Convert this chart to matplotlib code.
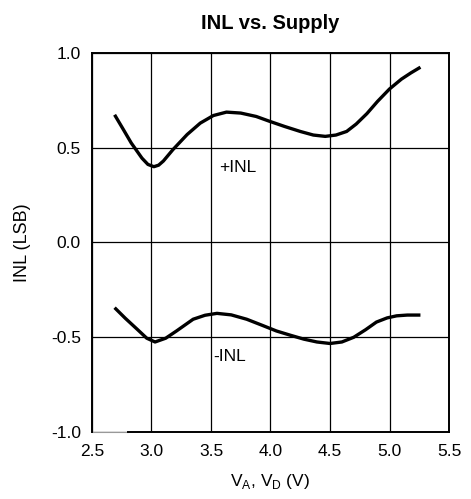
import matplotlib
matplotlib.use("Agg")
import matplotlib.pyplot as plt

plt.rcParams['font.family'] = ['Liberation Sans', 'DejaVu Sans']

# values
supply_pos = [2.69, 2.76, 2.83, 2.92, 2.97, 3.02, 3.06, 3.10, 3.18, 3.30, 3.41, 3.52, 3.63,
              3.75, 3.88, 3.99, 4.12, 4.25, 4.36, 4.46, 4.55, 4.64, 4.72, 4.81, 4.90, 5.00,
              5.10, 5.18, 5.26]
inl_pos = [0.674, 0.60, 0.525, 0.445, 0.412, 0.40, 0.408, 0.43, 0.49, 0.57, 0.63, 0.67,
           0.688, 0.683, 0.665, 0.64, 0.612, 0.586, 0.567, 0.56, 0.567, 0.586, 0.625, 0.68,
           0.745, 0.81, 0.862, 0.895, 0.925]

supply_neg = [2.69, 2.78, 2.88, 2.96, 3.03, 3.12, 3.21, 3.35, 3.45, 3.55, 3.67, 3.80,
              3.93, 4.05, 4.17, 4.28, 4.39, 4.50, 4.60, 4.70, 4.80, 4.89, 4.98, 5.06,
              5.15, 5.26]
inl_neg = [-0.344, -0.40, -0.458, -0.505, -0.525, -0.505, -0.467, -0.405, -0.384, -0.374,
           -0.382, -0.405, -0.437, -0.467, -0.49, -0.51, -0.525, -0.533, -0.525, -0.50,
           -0.46, -0.42, -0.398, -0.387, -0.383, -0.383]

xticks = [2.5, 3.0, 3.5, 4.0, 4.5, 5.0, 5.5]
yticks = [-1.0, -0.5, 0.0, 0.5, 1.0]

fig = plt.figure(figsize=(4.71, 4.99), dpi=100)
ax = fig.add_axes([0.1953, 0.1343, 0.758, 0.7595])

ax.plot(supply_pos, inl_pos, color='black', lw=2.4, solid_joinstyle='round', solid_capstyle='butt')
ax.plot(supply_neg, inl_neg, color='black', lw=2.4, solid_joinstyle='round', solid_capstyle='butt')

ax.text(3.57, 0.395, '+INL', fontsize=12.5, va='center', ha='left')
ax.text(3.52, -0.60, '-INL', fontsize=12.5, va='center', ha='left')

ax.set_xlim(2.5, 5.5)
ax.set_ylim(-1.0, 1.0)
ax.set_xticks(xticks)
ax.set_yticks(yticks)
ax.set_xticklabels([f'{v:.1f}' for v in xticks])
ax.set_yticklabels([f'{v:.1f}' for v in yticks])
ax.tick_params(axis='x', length=0, labelsize=12.5, pad=9)
ax.tick_params(axis='y', length=0, labelsize=12.5, pad=8)
ax.grid(True, color='black', lw=0.9)
for s in ax.spines.values():
    s.set_linewidth(1.4)
# bottom frame is faint at the far left in the original
ax.spines['bottom'].set_bounds(2.8, 5.5)
ax.axhline(-1.0, xmin=0, xmax=0.1, color='#999999', lw=0.8, clip_on=False)

ax.set_xlabel('V$_\\mathregular{A}$, V$_\\mathregular{D}$ (V)', fontsize=12.5, labelpad=9)
ax.set_ylabel('INL (LSB)', fontsize=13, labelpad=14)
ax.set_title('INL vs. Supply', fontsize=14.5, fontweight='bold', pad=17)

fig.savefig('out.png', dpi=100)
